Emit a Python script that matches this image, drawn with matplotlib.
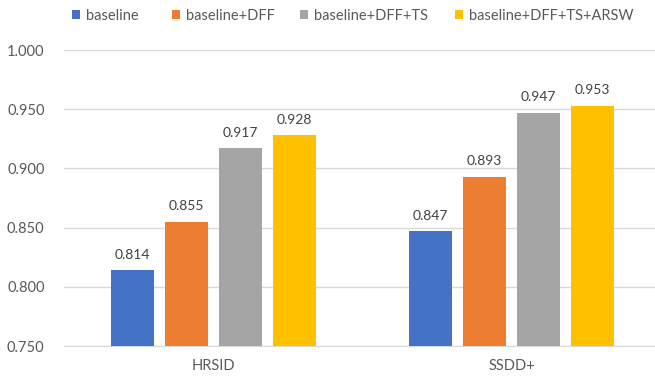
import matplotlib
matplotlib.use("Agg")
import matplotlib.pyplot as plt
import numpy as np

plt.rcParams['font.family'] = ['Lato', 'DejaVu Sans']

datasets = ["HRSID", "SSDD+"]
methods = ["baseline", "baseline+DFF", "baseline+DFF+TS", "baseline+DFF+TS+ARSW"]
baseline = [0.814, 0.847]
baseline_dff = [0.855, 0.893]
baseline_dff_ts = [0.917, 0.947]
baseline_dff_ts_arsw = [0.928, 0.953]
colors = ["#4472C4", "#ED7D31", "#A5A5A5", "#FFC000"]

series = [baseline, baseline_dff, baseline_dff_ts, baseline_dff_ts_arsw]

fig = plt.figure(figsize=(6.55, 3.78), dpi=100)
ax = fig.add_axes([64 / 655, 32 / 378, 597 / 655, 296 / 378])

x = np.arange(len(datasets))
width = 0.143
step = 0.181
handles = []
for i, (vals, name, c) in enumerate(zip(series, methods, colors)):
    pos = x + (i - 1.5) * step
    bars = ax.bar(pos, vals, width, color=c, label=name, zorder=3)
    handles.append(bars)
    for b, v in zip(bars, vals):
        ax.text(b.get_x() + b.get_width() / 2, v + 0.008, f"{v:.3f}",
                ha="center", va="bottom", fontsize=10, color="#404040")

ax.set_xlim(-0.5, 1.5)
ax.set_ylim(0.75, 1.0)
ax.set_yticks(np.arange(0.75, 1.001, 0.05))
ax.set_yticklabels([f"{t:.3f}" for t in np.arange(0.75, 1.001, 0.05)])
ax.set_xticks(x)
ax.set_xticklabels(datasets)
ax.tick_params(axis="both", length=0, colors="#595959", labelsize=10.5)
ax.tick_params(axis="y", pad=14)
ax.tick_params(axis="x", pad=9)
ax.grid(axis="y", color="#D9D9D9", linewidth=1, zorder=0)
for s in ax.spines.values():
    s.set_visible(False)
ax.spines["bottom"].set_visible(True)
ax.spines["bottom"].set_color("#D9D9D9")

# one legend entry per slot along the top row
legend_x = [72, 172, 300, 455]
for h, name, lx in zip(handles, methods, legend_x):
    fig.legend([h], [name], loc="center left",
               bbox_to_anchor=(lx / 655, 1 - 16 / 378),
               frameon=False, fontsize=10.5, handlelength=0.55,
               handleheight=0.55, handletextpad=0.4, borderpad=0,
               borderaxespad=0, labelcolor="#595959")

fig.savefig("out.png", dpi=100)
